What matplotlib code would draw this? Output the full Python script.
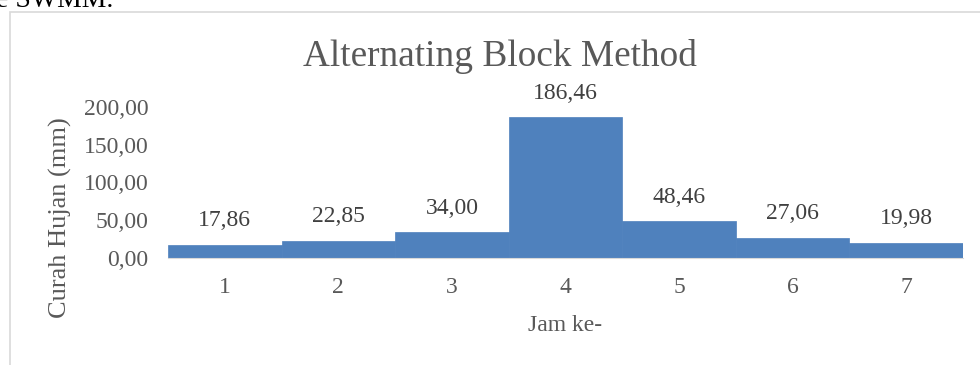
import matplotlib.pyplot as plt
from matplotlib.patches import Rectangle

# Data: hourly rainfall, alternating block method
jam = ['1', '2', '3', '4', '5', '6', '7']
curah_hujan = [17.86, 22.85, 34.00, 186.46, 48.46, 27.06, 19.98]
yticks = [0, 50, 100, 150, 200]

plt.rcParams['font.family'] = ['Liberation Serif', 'DejaVu Serif']

fig = plt.figure(figsize=(9.8, 3.65), dpi=100)
ax = fig.add_axes([168 / 980, 1 - 258 / 365, (963 - 168) / 980, (258 - 107) / 365])

x = range(len(jam))
ax.bar(x, curah_hujan, width=1.0, color='#4f81bd', edgecolor='#4f81bd', linewidth=0.5)

# value labels just above each block
for i, v in enumerate(curah_hujan):
    ax.annotate(f'{v:.2f}'.replace('.', ','), (i, v),
                xytext=(0, 24 * 0.72), textcoords='offset points',
                ha='center', va='center', fontsize=17, color='#404040')

ax.set_xlim(-0.5, len(jam) - 0.5)
ax.set_ylim(0, 200)
ax.set_xticks(list(x))
ax.set_xticklabels(jam)
ax.set_yticks(yticks)
ax.set_yticklabels([f'{t:.2f}'.replace('.', ',') for t in yticks])
ax.tick_params(length=0, labelsize=17, labelcolor='#595959')
ax.tick_params(axis='x', pad=14)
ax.tick_params(axis='y', pad=14)

for s in ['top', 'right', 'left']:
    ax.spines[s].set_visible(False)
ax.spines['bottom'].set_color('#d9d9d9')

ax.set_xlabel('Jam ke-', fontsize=17, color='#595959', labelpad=12)
fig.text(60 / 980, 1 - 218 / 365, 'Curah Hujan (mm)', rotation=90, fontsize=19,
         color='#595959', ha='center', va='center')
fig.text(500 / 980, 1 - 57 / 365, 'Alternating Block Method', fontsize=26.8,
         color='#595959', ha='center', va='center')

# chart frame, cut off at right and bottom like the page crop
fig.patches.append(Rectangle((9.5 / 980, -0.1), 1.1, 1.1 - 12 / 365,
                             transform=fig.transFigure, fill=False,
                             edgecolor='#d9d9d9', linewidth=1.2))
# text of the page above the chart, mostly cropped
fig.text(-4 / 980, 1 - 7 / 365, 'e SWMM.', fontsize=20, color='black',
         ha='left', va='baseline')

fig.savefig('out.png', dpi=100)
